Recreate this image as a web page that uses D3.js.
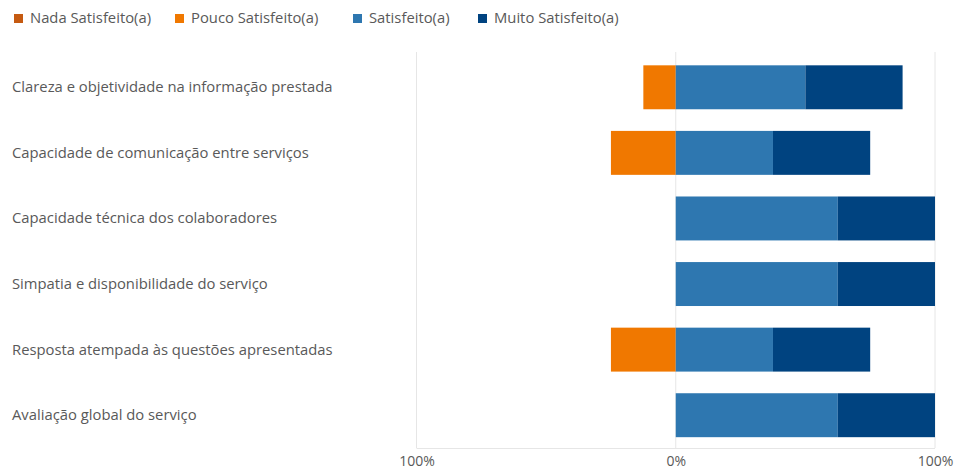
<!DOCTYPE html>
<html><head><meta charset="utf-8">
<script src="https://cdn.jsdelivr.net/npm/d3@7/dist/d3.min.js"></script>
<style>body{margin:0;background:#fff;} svg{display:block;font-family:"Open Sans",sans-serif;}</style>
</head><body>
<svg id="c" width="956" height="473"></svg>
<script>
const categories = [
  "Clareza e objetividade na informação prestada",
  "Capacidade de comunicação entre serviços",
  "Capacidade técnica dos colaboradores",
  "Simpatia e disponibilidade do serviço",
  "Resposta atempada às questões apresentadas",
  "Avaliação global do serviço"
];
const seriesNames = ["Nada Satisfeito(a)", "Pouco Satisfeito(a)", "Satisfeito(a)", "Muito Satisfeito(a)"];
const nada = [0, 0, 0, 0, 0, 0];
const pouco = [12.5, 25, 0, 0, 25, 0];
const satisfeito = [50, 37.5, 62.5, 62.5, 37.5, 62.5];
const muito = [37.5, 37.5, 37.5, 37.5, 37.5, 37.5];
const colors = ["#c55a11", "#f07800", "#2e77b0", "#004380"];
const tickValues = [-100, 0, 100];
const tickLabels = ["100%", "0%", "100%"];

const svg = d3.select("#c");
const x = d3.scaleLinear().domain([-100, 100]).range([416.5, 935]);
const y = d3.scaleBand().domain(categories).range([54.5, 448]).paddingInner(0.33).paddingOuter(0.165);

// gridlines
svg.append("g").selectAll("line").data(tickValues).join("line")
  .attr("x1", d => x(d)).attr("x2", d => x(d)).attr("y1", 52).attr("y2", 448)
  .attr("stroke", "#e6e6e6").attr("stroke-width", 1);
svg.append("line").attr("x1", x(-100)).attr("x2", x(100)).attr("y1", 448.5).attr("y2", 448.5)
  .attr("stroke", "#e6e6e6");

// bars
const rects = [];
categories.forEach((c, i) => {
  let left = 0;
  [[pouco, 1], [nada, 0]].forEach(([arr, si]) => {
    const v = arr[i];
    if (v > 0) rects.push({c, si, x0: left - v, x1: left});
    left -= v;
  });
  let right = 0;
  [[satisfeito, 2], [muito, 3]].forEach(([arr, si]) => {
    const v = arr[i];
    if (v > 0) rects.push({c, si, x0: right, x1: right + v});
    right += v;
  });
});
svg.append("g").selectAll("rect").data(rects).join("rect")
  .attr("x", d => x(d.x0)).attr("width", d => x(d.x1) - x(d.x0))
  .attr("y", d => y(d.c)).attr("height", y.bandwidth())
  .attr("fill", d => colors[d.si]);

// category labels
svg.append("g").selectAll("text").data(categories).join("text")
  .attr("x", 12).attr("y", d => y(d) + y.bandwidth() / 2 + 1)
  .attr("dominant-baseline", "middle")
  .attr("font-size", 14.8).attr("fill", "#595959").text(d => d);

// x axis tick labels
const xAxis = d3.axisBottom(x).tickValues(tickValues).tickSize(0).tickPadding(7)
  .tickFormat((d, i) => tickLabels[i]);
const ax = svg.append("g").attr("transform", "translate(0,449)").call(xAxis);
ax.select(".domain").remove();
ax.selectAll("text").attr("font-size", 14).attr("fill", "#595959").attr("font-family", "'Open Sans',sans-serif");

// legend
const legX = [14, 175, 353, 478];
const leg = svg.append("g").selectAll("g").data(seriesNames).join("g")
  .attr("transform", (d, i) => `translate(${legX[i]},18.5)`);
leg.append("rect").attr("x", 0).attr("y", -4.5).attr("width", 9).attr("height", 9).attr("fill", (d, i) => colors[i]);
leg.append("text").attr("x", 16).attr("y", 1).attr("dominant-baseline", "middle")
  .attr("font-size", 14.8).attr("fill", "#595959").text(d => d);
</script>
</body></html>
